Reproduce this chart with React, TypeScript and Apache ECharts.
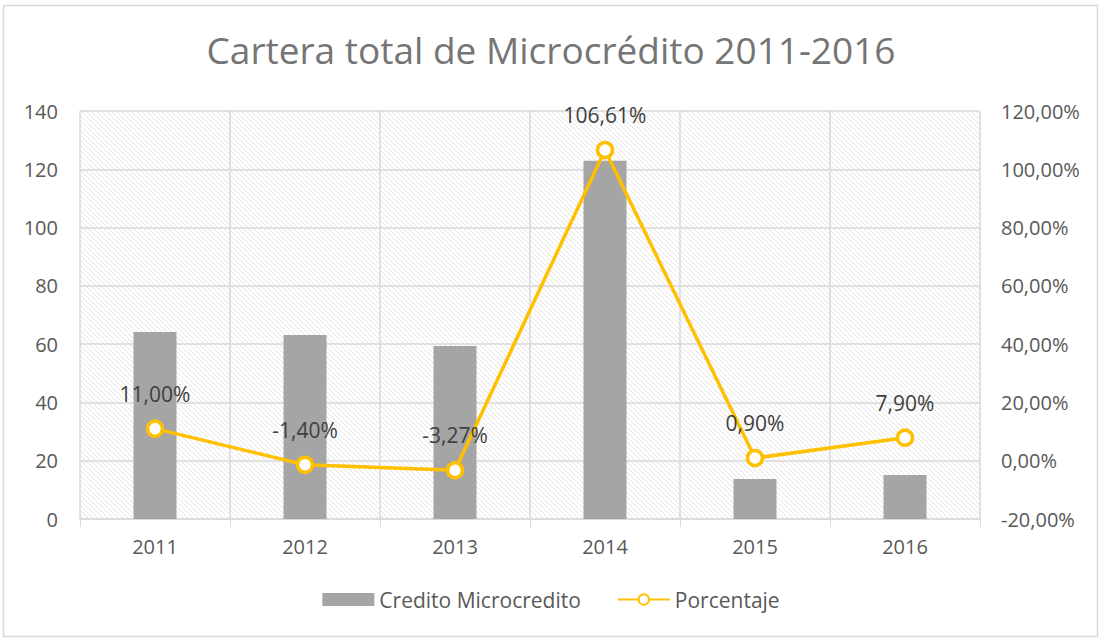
import React, { useEffect, useRef } from "react";
import * as echarts from "echarts";

const years = ["2011", "2012", "2013", "2014", "2015", "2016"];
const credito = [64.2, 63.1, 59.4, 122.9, 13.7, 15.1];
const porcentaje = [11.0, -1.4, -3.27, 106.61, 0.9, 7.9];

function makeHatch(): string {
  const c = document.createElement("canvas");
  c.width = 5;
  c.height = 5;
  const ctx = c.getContext("2d")!;
  ctx.fillStyle = "#ffffff";
  ctx.fillRect(0, 0, 5, 5);
  ctx.strokeStyle = "#e3e3e3";
  ctx.lineWidth = 1;
  for (let k = -5; k <= 10; k += 5) {
    ctx.beginPath();
    ctx.moveTo(k, 0);
    ctx.lineTo(k + 5, 5);
    ctx.stroke();
  }
  return c.toDataURL();
}

const fmtPct = (v: number) => v.toFixed(2).replace(".", ",") + "%";

export default function App() {
  const ref = useRef<HTMLDivElement>(null);
  useEffect(() => {
    const chart = echarts.init(ref.current!, null, { renderer: "svg" });
    const hatch = makeHatch();
    const font = "'Open Sans', sans-serif";
    chart.setOption({
      animation: false,
      backgroundColor: "#ffffff",
      textStyle: { fontFamily: font },
      title: {
        text: "Cartera total de Microcrédito 2011-2016",
        left: "center",
        top: 26,
        textStyle: { fontSize: 37, fontWeight: "normal", color: "#757575", fontFamily: font },
      },
      graphic: [
        {
          type: "rect",
          shape: { x: 3.5, y: 5.5, width: 1094, height: 631 },
          style: { fill: "none", stroke: "#d9d9d9", lineWidth: 1.5 },
          silent: true,
        },
      ],
      grid: {
        left: 80,
        right: 122,
        top: 111,
        bottom: 122,
        show: true,
        borderWidth: 0,
        backgroundColor: { image: hatch, repeat: "repeat" } as any,
      },
      legend: {
        bottom: 26,
        left: "center",
        itemWidth: 52,
        itemHeight: 13,
        itemGap: 36,
        textStyle: { fontSize: 21, color: "#595959", fontFamily: font },
        data: [
          { name: "Credito Microcredito", icon: "rect" },
          { name: "Porcentaje" },
        ],
      },
      xAxis: {
        type: "category",
        data: years,
        boundaryGap: true,
        axisLine: { lineStyle: { color: "#d9d9d9", width: 1.5 } },
        axisTick: { show: true, length: 8, lineStyle: { color: "#d9d9d9" } },
        axisLabel: { fontSize: 20, color: "#595959", margin: 17 },
        splitLine: { show: true, lineStyle: { color: "#d9d9d9", width: 1.5 } },
      },
      yAxis: [
        {
          type: "value",
          min: 0,
          max: 140,
          interval: 20,
          axisLine: { show: false },
          axisTick: { show: false },
          axisLabel: { fontSize: 20, color: "#595959", margin: 22 },
          splitLine: { show: true, lineStyle: { color: "#d9d9d9", width: 1.5 } },
        },
        {
          type: "value",
          min: -20,
          max: 120,
          interval: 20,
          axisLine: { show: false },
          axisTick: { show: false },
          axisLabel: { fontSize: 20, color: "#595959", margin: 21, formatter: fmtPct },
          splitLine: { show: false },
        },
      ],
      series: [
        {
          name: "Credito Microcredito",
          type: "bar",
          data: credito,
          barWidth: 43,
          itemStyle: { color: "#a5a5a5" },
          yAxisIndex: 0,
        },
        {
          name: "Porcentaje",
          type: "line",
          yAxisIndex: 1,
          data: porcentaje,
          symbol: "circle",
          symbolSize: 15,
          lineStyle: { color: "#ffc000", width: 3.5 },
          itemStyle: { color: "#ffffff", borderColor: "#ffc000", borderWidth: 3.5 },
          label: {
            show: true,
            position: "top",
            distance: 15,
            fontSize: 21,
            color: "#404040",
            formatter: (p: any) => fmtPct(p.value),
          },
          z: 5,
        },
      ],
    });
    return () => chart.dispose();
  }, []);
  return (
    <div
      ref={ref}
      style={{ position: "absolute", left: 0, top: 0, width: 1102, height: 641 }}
    />
  );
}
